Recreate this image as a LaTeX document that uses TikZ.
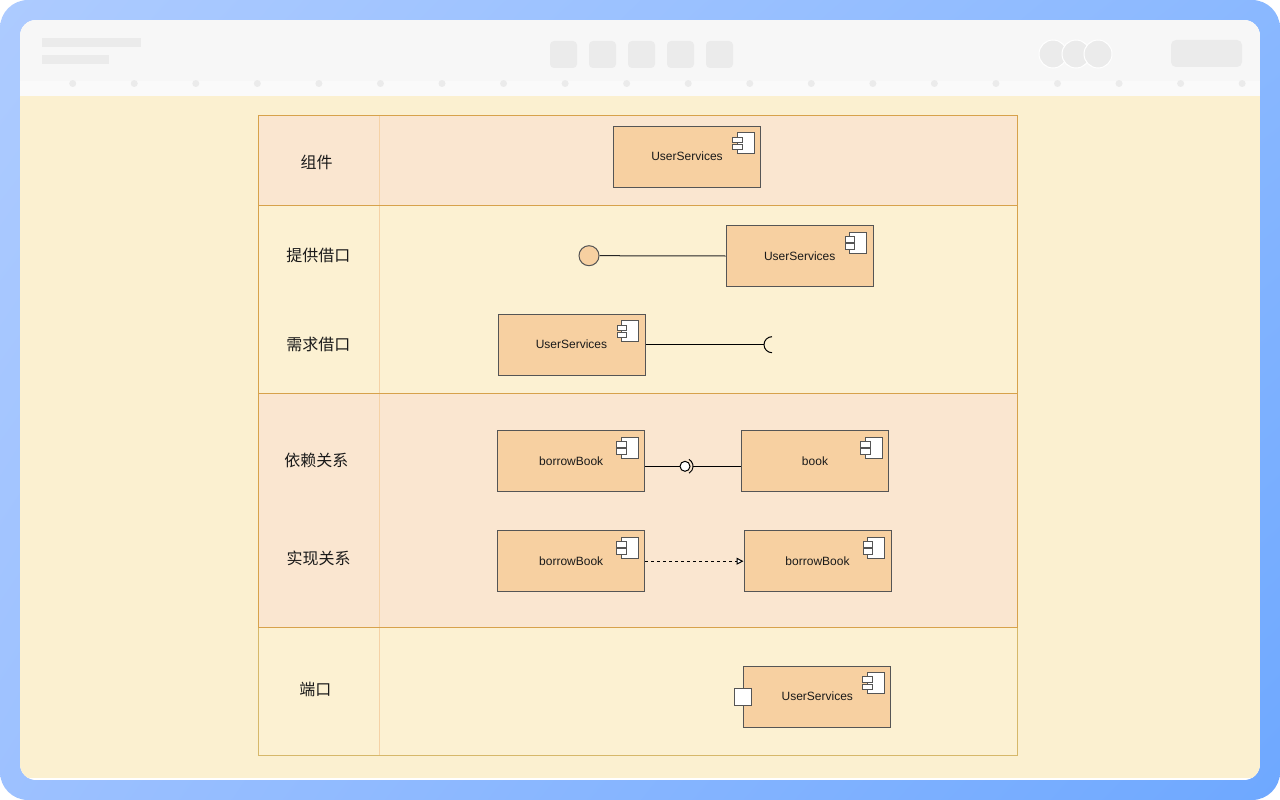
\documentclass[tikz,border=0pt]{standalone}
\usepackage{fontspec}
\setmainfont{Liberation Sans}
\newfontfamily\cjk{Noto Sans CJK SC}
\usepackage{xcolor}
\usetikzlibrary{arrows.meta,shadings}

\definecolor{frameUL}{HTML}{ADCBFF}
\definecolor{frameUR}{HTML}{8AB8FF}
\definecolor{frameLL}{HTML}{9DC1FF}
\definecolor{frameLR}{HTML}{6EA8FF}
\definecolor{headgrey}{HTML}{F7F7F7}
\definecolor{stripgrey}{HTML}{FAFAFA}
\definecolor{bargrey}{HTML}{EBEBEB}
\definecolor{cream}{HTML}{FBF0D0}
\definecolor{rowpeach}{HTML}{FAE6D0}
\definecolor{rowcream}{HTML}{FCF1D2}
\definecolor{peachline}{HTML}{D7A24B}
\definecolor{creamline}{HTML}{D6B86A}
\definecolor{colline}{HTML}{F5D2A6}
\definecolor{compfill}{HTML}{F7D0A1}
\definecolor{compline}{HTML}{555555}
\definecolor{labeltext}{HTML}{1A1A1A}

\begin{document}
\begin{tikzpicture}[x=1pt,y=-1pt,line width=1pt,
    comp node/.style={rectangle,draw=compline,fill=compfill,minimum width=147pt,
      minimum height=61pt,inner sep=0pt,text=labeltext,font=\fontsize{12}{14}\selectfont},
    row label/.style={text=labeltext,font=\cjk\fontsize{16}{19}\selectfont},
    ball/.style={circle,draw=compline,inner sep=0pt},
    comp icon/.pic={
      \draw[fill=white,draw=compline] (-24,7) rectangle (-7,28);
      \draw[fill=white,draw=compline] (-28.4,11.3) rectangle (-19,17);
      \draw[fill=white,draw=compline] (-28.4,18.7) rectangle (-19,24);
    }]

  \useasboundingbox (0,0) rectangle (1280,800);
  \shade[rounded corners=28,upper left=frameUL,upper right=frameUR,
    lower left=frameLL,lower right=frameLR] (0,0) rectangle (1280,800);

  % window
  \begin{scope}
    \clip[rounded corners=16] (20,20) rectangle (1260,780);
    \fill[white] (20,20) rectangle (1260,780);
    \fill[headgrey] (20,20) rectangle (1260,81);
    \fill[stripgrey] (20,81) rectangle (1260,96);
    \fill[cream] (20,96) rectangle (1260,778);
  \end{scope}
  \fill[bargrey] (42,38) rectangle (141,47);
  \fill[bargrey] (42,55) rectangle (109,64);
  \foreach \bx in {550,589,628,667,706}
    \fill[bargrey,rounded corners=4] (\bx,41) rectangle ++(27,27);
  \foreach \cx in {1053,1076,1098}
    \filldraw[fill=bargrey,draw=white] (\cx,54) circle (14);
  \fill[bargrey,rounded corners=5] (1171,40) rectangle (1242,67);
  \begin{scope}
    \clip (20,81) rectangle (1260,96);
    \foreach \k in {0,...,19}
      \fill[bargrey] (72.7+61.55*\k,83.5) circle (3.5);
  \end{scope}

  % table
  \fill[rowpeach] (258,115) rectangle (1017,205.3);
  \fill[rowcream] (258,205.3) rectangle (1017,393.3);
  \fill[rowpeach] (258,393.3) rectangle (1017,627.3);
  \fill[rowcream] (258,627.3) rectangle (1017,755);
  \draw[colline] (379,115) -- (379,755);
  \draw[creamline] (258,627.3) rectangle (1017,755);
  \draw[peachline] (258,205.3) rectangle (1017,393.3);
  \draw[peachline] (258,115) rectangle (1017,205.3);
  \draw[peachline] (258,393.3) rectangle (1017,627.3);

  \node[row label] (lcomp) at (316.7,162.5) {组件};
  \node[row label] (lprov) at (318.3,255.8) {提供借口};
  \node[row label] (lreq)  at (318.3,344.2) {需求借口};
  \node[row label] (ldep)  at (316.3,460.5) {依赖关系};
  \node[row label] (lreal) at (318.7,558.2) {实现关系};
  \node[row label] (lport) at (315.3,689.2) {端口};

  % components
  \node[comp node] (comp)  at (687,156.7)   {UserServices};
  \node[comp node] (prov)  at (799.7,256)   {UserServices};
  \node[comp node] (req)   at (571.5,344.7) {UserServices};
  \node[comp node] (depA)  at (571.2,461.2) {borrowBook};
  \node[comp node] (depB)  at (815,461.2)   {book};
  \node[comp node] (realA) at (571.2,561.2) {borrowBook};
  \node[comp node] (realB) at (817.5,561.2) {borrowBook};
  \node[comp node] (portc) at (817.3,696.5) {UserServices};

  \foreach \n in {comp,prov,req,depA,depB,realA,realB,portc}
    \pic at (\n.north east) {comp icon};

  % provided interface
  \node[ball,fill=compfill,minimum size=20pt] (pball) at (589,255.7) {};
  \draw[black!85] (pball.east) -- (prov.west);

  % required interface
  \coordinate (rsock) at (764,344.7);
  \draw[black] (req.east) -- (rsock);
  \draw[black] ([shift={(8,8)}]rsock) arc[start angle=90,end angle=270,radius=8];

  % dependency
  \node[ball,draw=black,fill=white,minimum size=10pt] (dball) at (685,466.3) {};
  \coordinate (dsock) at (693,466.3);
  \draw[black] (depA.east |- dball) -- (dball.west);
  \draw[black] ([shift={(4,-6.93)}]dball.center) arc[start angle=-60,end angle=60,radius=8];
  \draw[black] (dsock) -- (depB.west |- dball);

  % realization
  \draw[black,dash pattern=on 3pt off 3pt,
    -{Triangle[open,length=7pt,width=7pt,fill=white]}] (realA) -- (realB);

  % port
  \node[draw=compline,fill=white,minimum size=17pt,inner sep=0pt] (pport) at (portc.west) {};
\end{tikzpicture}
\end{document}
